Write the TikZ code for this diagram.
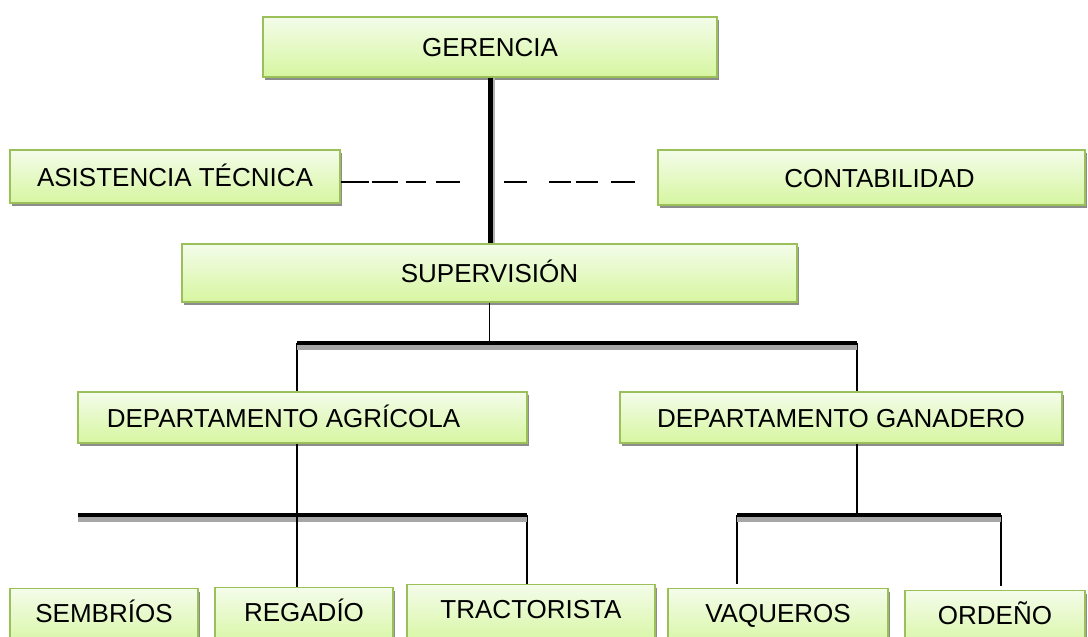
\documentclass[tikz,border=0pt]{standalone}
\usepackage{fontspec}
\setmainfont{Liberation Sans}
\usetikzlibrary{shadows}
\definecolor{boxborder}{RGB}{155,192,89}
\definecolor{boxtop}{RGB}{244,252,234}
\definecolor{boxbot}{RGB}{214,246,160}
\tikzset{
  box/.style={draw=boxborder, line width=1.4pt, top color=boxtop, bottom color=boxbot,
    drop shadow={shadow xshift=2pt, shadow yshift=-3pt, fill=black!45, opacity=1},
    font=\fontsize{26}{30}\selectfont, text height=19pt, text depth=0pt, inner sep=0pt},
  lowbox/.style={box, anchor=north, minimum height=60pt, text depth=12pt},
  heavy/.style={line width=5pt},
  heavyshadow/.style={line width=5pt, black!30},
  barline/.style={line width=4.5pt},
  barshadow/.style={line width=5pt, black!35},
  thinline/.style={line width=1.3pt},
  dashline/.style={line width=1.8pt}
}
\begin{document}
\begin{tikzpicture}[x=1pt, y=-1pt]
\clip (0,0) rectangle (1088,637);
\fill[white] (0,0) rectangle (1088,637);
% boxes
\node[box, minimum width=454pt, minimum height=60pt] (ger) at (490,47) {GERENCIA};
\node[box, minimum width=330pt, minimum height=53pt] (asis) at (175,176.5) {ASISTENCIA TÉCNICA};
\node[box, minimum width=427pt, minimum height=55pt] (cont) at (871.5,177.5) {\hspace*{16pt}CONTABILIDAD};
\node[box, minimum width=615pt, minimum height=58pt] (sup) at (489.5,273) {SUPERVISIÓN};
\node[box, minimum width=449pt, minimum height=51pt] (dagr) at (302.5,417.5) {\hspace*{-38pt}DEPARTAMENTO AGRÍCOLA};
\node[box, minimum width=442pt, minimum height=51pt] (dgan) at (841,417.5) {DEPARTAMENTO GANADERO};
\node[lowbox, minimum width=188pt] (semb) at (104,588) {SEMBRÍOS};
\node[lowbox, minimum width=178pt] (reg) at (304,587) {REGADÍO};
\node[lowbox, minimum width=248pt] (trac) at (531,584) {TRACTORISTA};
\node[lowbox, minimum width=220pt] (vaq) at (778,588) {VAQUEROS};
\node[lowbox, minimum width=180pt] (ord) at (995,590) {ORDEÑO};
% coordinates
\coordinate (dl) at (466,182);
\coordinate (dr1) at (504,182);
\coordinate (b1l) at (297,343);
\coordinate (b1r) at (857,343);
\coordinate (b2l) at (78,515);
\coordinate (b2r) at (527,515);
\coordinate (b3l) at (737,515);
\coordinate (b3r) at (1001,515);
% main vertical
\draw[heavyshadow] ([xshift=2pt]ger.south) -- ([xshift=2pt]ger.south |- sup.north);
\draw[heavy] (ger.south) -- (ger.south |- sup.north);
% dashed staff lines
\draw[dashline, dash pattern=on 28pt off 3pt on 26pt off 8pt on 20pt off 10pt on 24pt off 40pt]
  (asis.east |- dl) -- (dl);
\draw[dashline, dash pattern=on 23pt off 22pt on 22pt off 5pt on 22pt off 13pt on 24pt off 40pt]
  (dr1) -- (cont.west |- dr1);
% supervision to departments
\draw[thinline] (sup.south) -- (sup.south |- b1l);
\draw[thinline] (b1l) -- (b1l |- dagr.north);
\draw[thinline] (b1r) -- (b1r |- dgan.north);
\draw[barshadow] ([yshift=-4pt]b1l) -- ([yshift=-4pt]b1r);
\draw[barline] (b1l) -- (b1r);
% agricultural
\draw[thinline] (b1l |- dagr.south) -- (b1l |- reg.north);
\draw[thinline] (b2r) -- (b2r |- trac.north);
\draw[barshadow] ([yshift=-4pt]b2l) -- ([yshift=-4pt]b2r);
\draw[barline] (b2l) -- (b2r);
\draw[thinline] (b1l |- b2l) -- (b1l |- reg.north);
% livestock
\draw[thinline] (b1r |- dgan.south) -- (b1r |- b3l);
\draw[thinline] (b3l) -- ([yshift=4pt]b3l |- vaq.north);
\draw[thinline] (b3r) -- ([yshift=4pt]b3r |- ord.north);
\draw[barshadow] ([yshift=-4pt]b3l) -- ([yshift=-4pt]b3r);
\draw[barline] (b3l) -- (b3r);
\end{tikzpicture}
\end{document}
